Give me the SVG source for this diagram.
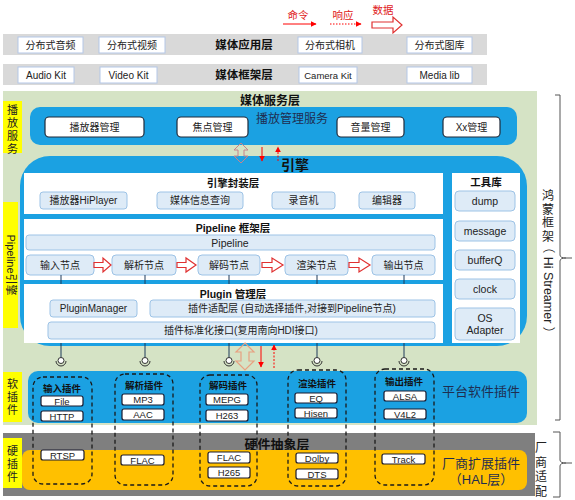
<svg xmlns="http://www.w3.org/2000/svg" width="575" height="500" viewBox="0 0 575 500">
<defs>
<style>
text{font-family:"Liberation Sans","Noto Sans CJK SC",sans-serif;fill:#222;text-anchor:middle;dominant-baseline:central}
.t{font-size:10px}
.p{font-size:9.5px}
.tb{font-weight:bold;font-size:11.5px;fill:#111}
.hb{font-weight:bold;font-size:10.5px;fill:#111}
.bar{fill:#d9d9d9}
.lb{fill:#fff;stroke:#b4c7e7;stroke-width:1}
.sv{fill:#fff;stroke:#1f2a3a;stroke-width:1.2}
.nd{fill:#deebf7;stroke:#9dc3e6;stroke-width:1}
.pl{fill:#fff;stroke:#1a1a2e;stroke-width:1.2}
.grp{fill:none;stroke:#1a1a1a;stroke-width:1.3;stroke-dasharray:4 3}
.yl{fill:#ffff00}
.yt{font-size:11px;fill:#222}
.vt{font-size:12px;fill:#222}
.red{stroke:#ff0000;stroke-width:1;fill:none}
.hol{fill:#fff;stroke:#e03030;stroke-width:1.2}
.ln{stroke:#1f3a5a;stroke-width:1;fill:none}
.nv{fill:#1f2d50}
</style>
<marker id="ar" viewBox="0 0 10 10" refX="9" refY="5" markerWidth="6" markerHeight="6" orient="auto"><path d="M0,0 L10,5 L0,10 z" fill="#ff0000"/></marker>
<g id="sock"><path d="M-5,0 A5,5 0 0 0 5,0" fill="none" stroke="#333" stroke-width="1"/><circle cx="0" cy="-0.5" r="3" fill="#fff" stroke="#333" stroke-width="1"/></g>
</defs>

<!-- legend -->
<g id="legend">
<text x="298" y="15" style="font-size:10.5px;fill:#e02020">命令</text>
<line x1="283" y1="24" x2="316" y2="24" class="red" marker-end="url(#ar)"/>
<text x="343" y="15" style="font-size:10.5px;fill:#e02020">响应</text>
<line x1="330" y1="24" x2="361" y2="24" class="red" stroke-dasharray="1.5 1.5" marker-end="url(#ar)"/>
<text x="383" y="10" style="font-size:10.5px;fill:#e02020">数据</text>
<polygon points="372,22 393,22 393,17 402,25 393,33 393,28 372,28" class="hol"/>
</g>

<!-- media app layer -->
<g id="app-layer">
<rect x="3" y="34" width="484" height="21" class="bar"/>
<rect x="18" y="37" width="65" height="16" class="lb"/><text x="50.5" y="45" class="t">分布式音频</text>
<rect x="99" y="37" width="66" height="16" class="lb"/><text x="132" y="45" class="t">分布式视频</text>
<text x="244" y="44.5" class="tb">媒体应用层</text>
<rect x="298" y="37" width="64" height="16" class="lb"/><text x="330" y="45" class="t">分布式相机</text>
<rect x="407" y="37" width="65" height="16" class="lb"/><text x="439.5" y="45" class="t">分布式图库</text>
</g>

<!-- media framework layer -->
<g id="fw-layer">
<rect x="3" y="64" width="484" height="21" class="bar"/>
<rect x="18" y="67" width="56" height="16" class="lb"/><text x="46" y="75" class="t">Audio Kit</text>
<rect x="100" y="67" width="57" height="16" class="lb"/><text x="128.5" y="75" class="t">Video Kit</text>
<text x="244" y="74.5" class="tb">媒体框架层</text>
<rect x="299" y="67" width="58" height="16" class="lb"/><text x="328" y="75" class="t" style="font-size:9.5px">Camera Kit</text>
<rect x="407" y="67" width="65" height="16" class="lb"/><text x="439.5" y="75" class="t">Media lib</text>
</g>

<!-- green background -->
<rect x="3" y="91" width="534" height="334" fill="#d5e3c5"/>

<!-- media service layer -->
<g id="service-layer">
<text x="270" y="101" class="tb" style="font-size:12px">媒体服务层</text>
<rect x="30" y="107" width="487" height="38" rx="10" fill="#1ba1e2"/>
<rect x="45" y="117" width="99" height="20" rx="4" class="sv"/><text x="94.5" y="127" class="t">播放器管理</text>
<rect x="177" y="117" width="71" height="20" rx="4" class="sv"/><text x="212.5" y="127" class="t">焦点管理</text>
<text x="292" y="119" class="nv" style="font-size:12px">播放管理服务</text>
<rect x="337" y="117" width="67" height="20" rx="4" class="sv"/><text x="370.5" y="127" class="t">音量管理</text>
<rect x="443" y="117" width="57" height="20" rx="4" class="sv"/><text x="471.5" y="127" class="t">Xx管理</text>
</g>
<g id="label-play">
<rect x="3" y="101" width="19" height="52" class="yl"/>
<text x="12.5" y="110" class="yt">播</text><text x="12.5" y="123" class="yt">放</text><text x="12.5" y="136" class="yt">服</text><text x="12.5" y="149" class="yt">务</text>
</g>

<!-- engine -->
<g id="engine">
<rect x="20" y="156" width="507" height="190" rx="30" fill="#1ba1e2"/>
<text x="295" y="165" class="tb" style="font-size:14px">引擎</text>
</g>
<g id="label-pipeline">
<rect x="3" y="202" width="15" height="126" class="yl"/>
<text transform="translate(10.5,265) rotate(90)" style="font-size:11px">Pipeline引擎</text>
</g>

<g id="encap-layer">
<rect x="24" y="173" width="419" height="41" fill="#fff"/>
<text x="233" y="183" class="hb">引擎封装层</text>
<rect x="40" y="192" width="87" height="17" rx="3" class="nd"/><text x="83.5" y="200.5" class="t">播放器HiPlayer</text>
<rect x="157" y="192" width="86" height="17" rx="3" class="nd"/><text x="200" y="200.5" class="t">媒体信息查询</text>
<rect x="272" y="192" width="63" height="17" rx="3" class="nd"/><text x="303.5" y="200.5" class="t">录音机</text>
<rect x="359" y="192" width="56" height="17" rx="3" class="nd"/><text x="387" y="200.5" class="t">编辑器</text>
</g>

<g id="tools">
<rect x="452" y="173" width="68" height="170" fill="#fff"/>
<text x="486" y="182" class="hb">工具库</text>
<rect x="455" y="191" width="60" height="20" rx="4" class="nd"/><text x="485" y="201" class="t" style="font-size:10.5px">dump</text>
<rect x="455" y="221" width="60" height="20" rx="4" class="nd"/><text x="485" y="231" class="t" style="font-size:10.5px">message</text>
<rect x="455" y="250" width="60" height="20" rx="4" class="nd"/><text x="485" y="260" class="t" style="font-size:10.5px">bufferQ</text>
<rect x="455" y="279" width="60" height="20" rx="4" class="nd"/><text x="485" y="289" class="t" style="font-size:10.5px">clock</text>
<rect x="455" y="308" width="60" height="32" rx="4" class="nd"/><text x="485" y="318" class="t" style="font-size:10.5px">OS</text><text x="485" y="330" class="t" style="font-size:10.5px">Adapter</text>
</g>

<g id="pipeline-layer">
<rect x="24" y="219" width="419" height="61" fill="#fff"/>
<text x="233" y="228" class="hb">Pipeline 框架层</text>
<rect x="26" y="235" width="409" height="15" rx="3" class="nd"/><text x="230" y="242.5" class="t" style="font-size:10.5px">Pipeline</text>
<rect x="26" y="255" width="68" height="20" rx="4" class="nd"/><text x="60" y="265" class="t">输入节点</text>
<rect x="112" y="255" width="64" height="20" rx="4" class="nd"/><text x="144" y="265" class="t">解析节点</text>
<rect x="198" y="255" width="62" height="20" rx="4" class="nd"/><text x="229" y="265" class="t">解码节点</text>
<rect x="285" y="255" width="63" height="20" rx="4" class="nd"/><text x="316.5" y="265" class="t">渲染节点</text>
<rect x="372" y="255" width="63" height="20" rx="4" class="nd"/><text x="403.5" y="265" class="t">输出节点</text>
</g>

<g id="plugin-layer">
<rect x="24" y="284" width="419" height="59" fill="#fff"/>
<text x="233" y="294" class="hb">Plugin 管理层</text>
<rect x="50" y="300" width="87" height="17" rx="3" class="nd"/><text x="93.5" y="308.5" class="t">PluginManager</text>
<rect x="150" y="300" width="285" height="17" rx="3" class="nd"/><text x="292" y="308.5" class="t">插件适配层 (自动选择插件,对接到Pipeline节点)</text>
<rect x="48" y="322" width="387" height="17" rx="3" class="nd"/><text x="241" y="330.5" class="t">插件标准化接口(复用南向HDI接口)</text>
</g>

<!-- soft plugins -->
<g id="soft-plugins">
<rect x="28" y="371" width="499" height="52" rx="10" fill="#1ba1e2"/>
<text x="481" y="391" class="nv" style="font-size:13px">平台软件插件</text>
</g>
<g id="label-soft">
<rect x="3" y="372" width="19" height="50" class="yl"/>
<text x="12.5" y="384" class="yt">软</text><text x="12.5" y="397" class="yt">插</text><text x="12.5" y="410" class="yt">件</text>
</g>

<!-- hardware -->
<g id="hal">
<rect x="3" y="433" width="532" height="63" fill="#7f7f7f"/>
<text x="277" y="444" class="tb" style="font-size:13px">硬件抽象层</text>
<rect x="22" y="450" width="505" height="40" rx="8" fill="#ffc000"/>
<text x="481" y="463" class="nv" style="font-size:13px">厂商扩展插件</text>
<text x="481" y="479" class="nv" style="font-size:13px">（HAL层）</text>
</g>
<g id="label-hard">
<rect x="3" y="438" width="19" height="50" class="yl"/>
<text x="12.5" y="451" class="yt">硬</text><text x="12.5" y="464" class="yt">插</text><text x="12.5" y="477" class="yt">件</text>
</g>

<!-- plugin groups -->
<g id="g-input">
<rect x="33" y="377" width="59" height="107" rx="10" class="grp"/>
<text x="62" y="388" class="hb" style="font-size:9.5px">输入插件</text>
<rect x="41" y="396" width="42" height="10" rx="2" class="pl"/><text x="62" y="401" class="p">File</text>
<rect x="41" y="411" width="42" height="10" rx="2" class="pl"/><text x="62" y="416" class="p">HTTP</text>
<rect x="41" y="450" width="43" height="10" rx="2" class="pl"/><text x="62.5" y="455" class="p">RTSP</text>
</g>
<g id="g-parse">
<rect x="115" y="374" width="58" height="111" rx="10" class="grp"/>
<text x="144" y="385" class="hb" style="font-size:9.5px">解析插件</text>
<rect x="122" y="394" width="42" height="11" rx="2" class="pl"/><text x="143" y="399.5" class="p">MP3</text>
<rect x="122" y="409" width="42" height="11" rx="2" class="pl"/><text x="143" y="414.5" class="p">AAC</text>
<rect x="121" y="455" width="43" height="10" rx="2" class="pl"/><text x="142.5" y="460" class="p">FLAC</text>
</g>
<g id="g-decode">
<rect x="200" y="375" width="57" height="111" rx="10" class="grp"/>
<text x="228" y="385" class="hb" style="font-size:9.5px">解码插件</text>
<rect x="206" y="394" width="42" height="11" rx="2" class="pl"/><text x="227" y="399.5" class="p">MEPG</text>
<rect x="206" y="410" width="42" height="11" rx="2" class="pl"/><text x="227" y="415.5" class="p">H263</text>
<rect x="208" y="452" width="42" height="11" rx="2" class="pl"/><text x="229" y="457.5" class="p">FLAC</text>
<rect x="208" y="467" width="42" height="11" rx="2" class="pl"/><text x="229" y="472.5" class="p">H265</text>
</g>
<g id="g-render">
<rect x="288" y="370" width="58" height="116" rx="10" class="grp"/>
<text x="317" y="383" class="hb" style="font-size:9.5px">渲染插件</text>
<rect x="295" y="393" width="42" height="10" rx="2" class="pl"/><text x="316" y="398" class="p">EQ</text>
<rect x="295" y="408" width="42" height="10" rx="2" class="pl"/><text x="316" y="413" class="p">Hisen</text>
<rect x="296" y="453" width="42" height="10" rx="2" class="pl"/><text x="317" y="458" class="p">Dolby</text>
<rect x="296" y="469" width="42" height="10" rx="2" class="pl"/><text x="317" y="474" class="p">DTS</text>
</g>
<g id="g-output">
<rect x="375" y="369" width="59" height="116" rx="10" class="grp"/>
<text x="404" y="381" class="hb" style="font-size:9.5px">输出插件</text>
<rect x="384" y="391" width="42" height="10" rx="2" class="pl"/><text x="405" y="396" class="p">ALSA</text>
<rect x="384" y="409" width="42" height="10" rx="2" class="pl"/><text x="405" y="414" class="p">V4L2</text>
<rect x="382" y="454" width="43" height="10" rx="2" class="pl"/><text x="403.5" y="459" class="p">Track</text>
</g>

<!-- connectors -->
<g id="connectors">
<path class="ln" d="M61,275V284M61,343V358M145,275V284M145,343V358M229,275V284M229,343V358M317,275V284M317,343V358M404,275V284M404,343V358"/>
<use href="#sock" x="61" y="361"/>
<use href="#sock" x="145" y="361"/>
<use href="#sock" x="229" y="361"/>
<use href="#sock" x="317" y="361"/>
<use href="#sock" x="404" y="361"/>
<polygon points="94,262.5 103,262.5 103,258 111,265 103,272 103,267.5 94,267.5" class="hol"/>
<polygon points="177,262.5 186,262.5 186,258 196,265 186,272 186,267.5 177,267.5" class="hol"/>
<polygon points="262,262.5 272,262.5 272,258 283,265 272,272 272,267.5 262,267.5" class="hol"/>
<polygon points="349,262.5 359,262.5 359,258 370,265 359,272 359,267.5 349,267.5" class="hol"/>
<polygon points="241,143 248,150 244,150 244,156 248,156 241,163 234,156 238,156 238,150 234,150" fill="none" stroke="#c9828a" stroke-width="1"/>
<line x1="262" y1="147" x2="262" y2="161" class="red" marker-end="url(#ar)"/>
<line x1="278" y1="161" x2="278" y2="147" class="red" stroke-dasharray="2 1.5" marker-end="url(#ar)"/>
<polygon points="245,343 254,352 249,352 249,361 254,361 245,370 236,361 241,361 241,352 236,352" fill="none" stroke="#e8a080" stroke-width="1.2"/>
<line x1="261" y1="346" x2="261" y2="367" class="red" marker-end="url(#ar)"/>
<line x1="274" y1="368" x2="274" y2="345" class="red" stroke-dasharray="2 1.5" marker-end="url(#ar)"/>
</g>

<!-- side brackets -->
<g id="bracket-hm">
<path d="M555,95 H560 V255 Q560,258 566,258 H572 M566,258 Q560,258 560,261 V420 H555" fill="none" stroke="#555" stroke-width="1"/>
<text x="548" y="196" class="vt">鸿</text>
<text x="548" y="209.5" class="vt">蒙</text>
<text x="548" y="223" class="vt">框</text>
<text x="548" y="236.5" class="vt">架</text>
<text transform="translate(548,290) rotate(90)" style="font-size:12.5px">（ Hi Streamer ）</text>
</g>
<g id="bracket-vendor">
<path d="M553,432 H560 V460 Q560,463 566,463 H572 M566,463 Q560,463 560,466 V497 H553" fill="none" stroke="#555" stroke-width="1"/>
<text x="541" y="448" class="vt">厂</text>
<text x="541" y="462.5" class="vt">商</text>
<text x="541" y="477" class="vt">适</text>
<text x="541" y="491.5" class="vt">配</text>
</g>
</svg>
